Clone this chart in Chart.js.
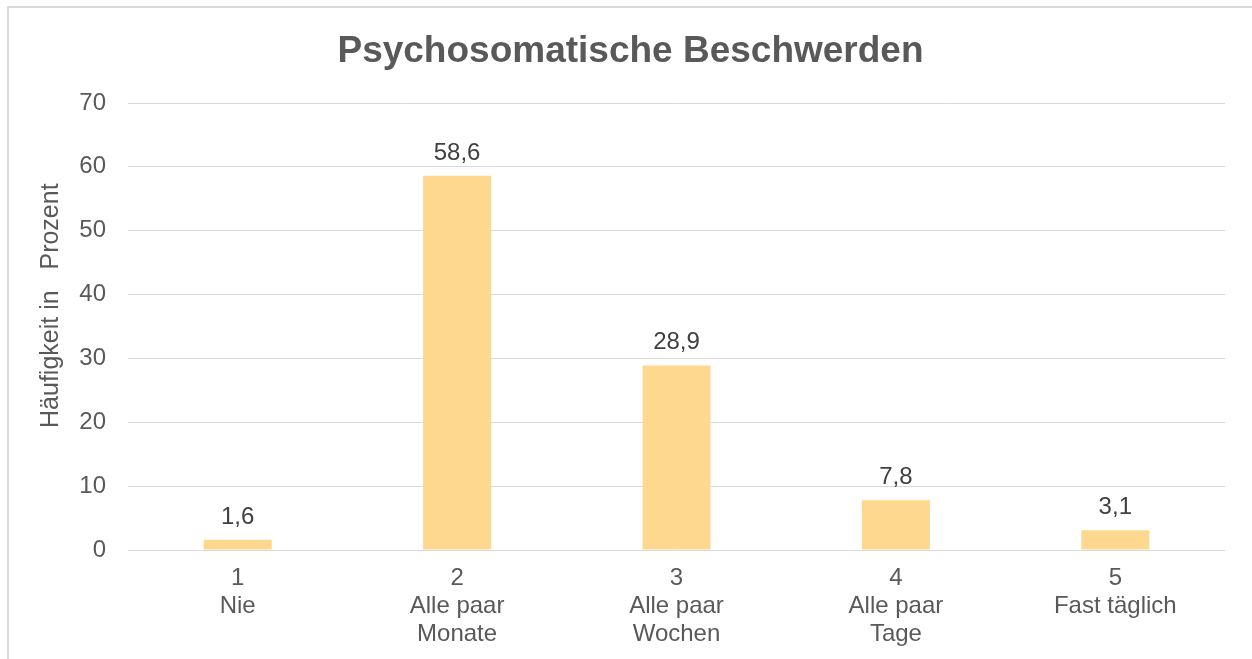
<!DOCTYPE html>
<html>
<head>
<meta charset="utf-8">
<script src="https://cdn.jsdelivr.net/npm/chart.js@4"></script>
<style>
  html, body { margin: 0; padding: 0; overflow: hidden; background: #fff; }
  #frame { position: absolute; left: 7px; top: 6px; width: 1300px; height: 700px; border: 2px solid #d9d9d9; }
  #wrap { position: absolute; left: 0; top: 0; width: 1252px; height: 659px; }
</style>
</head>
<body>
<div id="frame"></div>
<div id="wrap"><canvas id="chartBar"></canvas></div>
<script>
const categories = [
  ['1', 'Nie'],
  ['2', 'Alle paar', 'Monate'],
  ['3', 'Alle paar', 'Wochen'],
  ['4', 'Alle paar', 'Tage'],
  ['5', 'Fast täglich']
];
const values = [1.6, 58.6, 28.9, 7.8, 3.1];
const yTicks = [0, 10, 20, 30, 40, 50, 60, 70];

const fontFamily = '"Liberation Sans", Arial, sans-serif';

// Werte über den Balken
const valueLabels = {
  id: 'valueLabels',
  afterDatasetsDraw(chart) {
    const ctx = chart.ctx;
    const meta = chart.getDatasetMeta(0);
    ctx.save();
    ctx.font = '24px ' + fontFamily;
    ctx.fillStyle = '#404040';
    ctx.textAlign = 'center';
    ctx.textBaseline = 'alphabetic';
    meta.data.forEach((bar, i) => {
      ctx.fillText(values[i].toFixed(1).replace('.', ','), bar.x, bar.y - 16);
    });
    ctx.restore();
  }
};

const graph = {
  labels: categories,
  datasets: [{
    data: values,
    backgroundColor: '#FFD88F',
    borderWidth: 0,
    categoryPercentage: 1,
    barPercentage: 0.31
  }]
};

const config = {
  type: 'bar',
  data: graph,
  options: {
    responsive: false,
    animation: false,
    devicePixelRatio: 1,
    layout: { padding: { left: 36, right: 27, top: 0, bottom: 0 } },
    plugins: {
      legend: { display: false },
      tooltip: { enabled: false },
      title: {
        display: true,
        text: 'Psychosomatische Beschwerden',
        color: '#595959',
        font: { family: fontFamily, size: 37, weight: 'bold' },
        padding: { top: 30, bottom: 28.6 }
      }
    },
    scales: {
      x: {
        grid: { display: false, drawTicks: false },
        border: { display: false },
        afterFit: (scale) => { scale.height = 109; },
        ticks: {
          color: '#595959',
          font: { family: fontFamily, size: 24, lineHeight: 1.15 },
          padding: 15,
          maxRotation: 0,
          autoSkip: false
        }
      },
      y: {
        min: 0,
        max: 70,
        afterBuildTicks: (scale) => { scale.ticks = yTicks.map(v => ({ value: v })); },
        afterFit: (scale) => { scale.width = 92; },
        grid: { color: '#d9d9d9', lineWidth: 1, drawTicks: false },
        border: { display: false },
        ticks: {
          color: '#595959',
          font: { family: fontFamily, size: 24 },
          padding: 22
        },
        title: {
          display: true,
          text: '      Häufigkeit in   Prozent',
          color: '#595959',
          font: { family: fontFamily, size: 25 },
          padding: { top: 0, bottom: 12 }
        }
      }
    }
  },
  plugins: [valueLabels]
};

const canvas = document.getElementById('chartBar');
canvas.width = 1252;
canvas.height = 659;
const chartBar = new Chart(canvas, config);
</script>
</body>
</html>
